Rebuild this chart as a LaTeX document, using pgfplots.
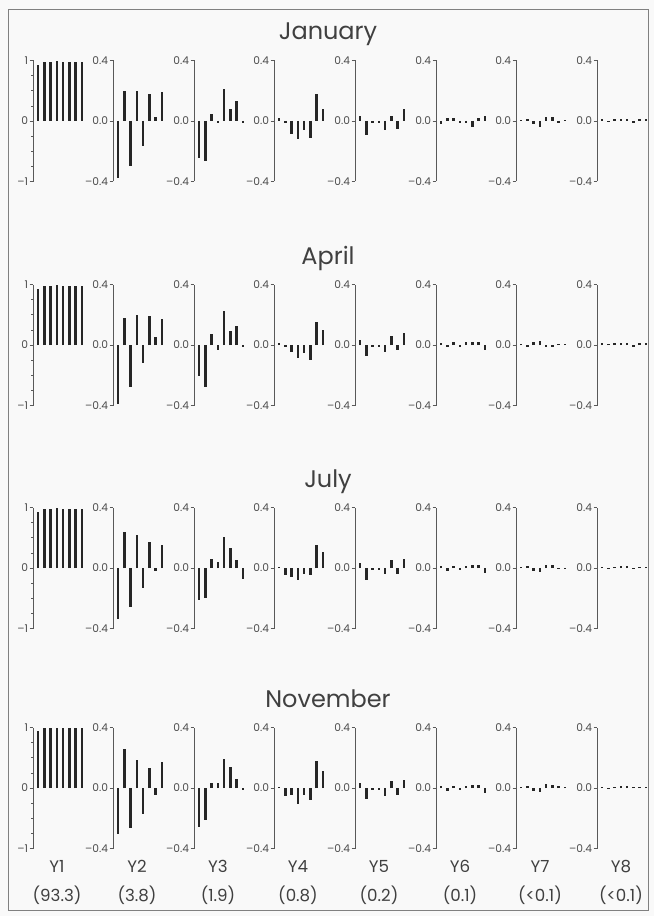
\documentclass[border=0pt]{standalone}
\usepackage{pgfplots}
\pgfplotsset{compat=1.18}
\usepackage{pgfplotstable}
\usepackage{fontspec}
\setmainfont{Poppins}

\definecolor{ink}{gray}{0.15}
\definecolor{paper}{gray}{0.975}
\def\u{0.75pt}

% loadings of the eight components, one row per station
\pgfplotstableread{
x Y1   Y2     Y3     Y4     Y5     Y6     Y7     Y8
1 0.93 -0.377 -0.245  0.018  0.030 -0.020  0.008  0.010
2 0.98  0.197 -0.263 -0.010 -0.090  0.020  0.010 -0.008
3 0.98 -0.300  0.045 -0.085 -0.010  0.020 -0.020  0.010
4 0.99  0.197 -0.015 -0.119 -0.010 -0.010 -0.040  0.010
5 0.98 -0.165  0.213 -0.057 -0.057 -0.010  0.025  0.015
6 0.98  0.180  0.082 -0.112  0.030 -0.040  0.025 -0.010
7 0.98  0.025  0.133  0.178 -0.050  0.020 -0.010  0.010
8 0.98  0.194 -0.010  0.080  0.080  0.030  0.008  0.010
}\janT

\pgfplotstableread{
x Y1   Y2     Y3     Y4     Y5     Y6     Y7     Y8
1 0.93 -0.389 -0.204  0.010  0.030  0.015  0.008  0.010
2 0.98  0.176 -0.275 -0.010 -0.070 -0.015 -0.010  0.008
3 0.98 -0.275  0.073 -0.044 -0.010  0.020  0.020  0.010
4 0.99  0.198 -0.030 -0.088 -0.010 -0.010  0.025  0.012
5 0.98 -0.121  0.226 -0.050 -0.044  0.020 -0.015  0.015
6 0.98  0.190  0.092 -0.099  0.060  0.020 -0.015 -0.010
7 0.98  0.050  0.125  0.152 -0.035  0.020  0.008  0.010
8 0.98  0.169 -0.010  0.099  0.077 -0.030  0.008  0.010
}\aprT

\pgfplotstableread{
x Y1   Y2     Y3     Y4     Y5     Y6     Y7     Y8
1 0.93 -0.339 -0.212  0.005  0.030  0.010  0.005  0.008
2 0.98  0.240 -0.201 -0.048 -0.080 -0.020  0.015 -0.008
3 0.98 -0.256  0.057 -0.059 -0.010  0.015 -0.020  0.008
4 0.99  0.220  0.039 -0.081 -0.010 -0.010 -0.025  0.010
5 0.98 -0.135  0.208 -0.042 -0.040  0.015  0.020  0.010
6 0.98  0.170  0.133 -0.048  0.050  0.020  0.020 -0.008
7 0.98 -0.020  0.050  0.149 -0.040  0.020 -0.008  0.008
8 0.98  0.149 -0.070  0.105  0.060 -0.030 -0.008  0.008
}\julT

\pgfplotstableread{
x Y1   Y2     Y3     Y4     Y5     Y6     Y7     Y8
1 0.94 -0.305 -0.255  0.005  0.035  0.015  0.005  0.008
2 0.99  0.255 -0.210 -0.056 -0.075 -0.020  0.010 -0.008
3 0.99 -0.267  0.034 -0.045 -0.010  0.015 -0.020  0.008
4 0.99  0.185  0.034 -0.106 -0.010 -0.010 -0.025  0.010
5 0.99 -0.174  0.192 -0.045 -0.050  0.015  0.025  0.010
6 0.99  0.129  0.136 -0.079  0.045  0.020  0.020  0.008
7 0.99 -0.045  0.061  0.181 -0.045  0.020  0.010  0.008
8 0.99  0.169 -0.010  0.113  0.056 -0.030  0.008  0.008
}\novT

\pgfplotsset{
  panel/.style={
    scale only axis, width=39pt, height=90.75pt,
    xmin=0.19, xmax=8.5,
    axis x line=none, axis y line=left,
    y axis line style={-, draw=black!65, line width=0.5pt},
    ytick style={draw=black!65, line width=0.5pt},
    tick align=outside, major tick length=2.5pt,
    tick label style={font=\fontsize{8}{9}\selectfont, text=black!70},
    yticklabel style={inner sep=1pt},
    clip=false, anchor=west,
  },
  panelA/.style={panel, ymin=-1, ymax=1, ytick={-1,0,1}, yticklabels={–1,0,1},
    minor ytick={-0.75,-0.5,-0.25,0.25,0.5,0.75}, minor tick length=1.2pt},
  panelB/.style={panel, ymin=-0.4, ymax=0.4, ytick={-0.4,0,0.4}, yticklabels={–0.4,0.0,0.4}},
  barA/.style={ycomb, draw=ink, line width=2pt, mark=none},
  barB/.style={ycomb, draw=ink, line width=1.9pt, mark=none},
}

% one month: title and the eight component panels
\newcommand\monthrow[3]{%
  \node[anchor=base, font=\fontsize{18}{20}\selectfont, text=black!75] at ({328*\u},{-(#2-81)*\u}) {#3};
  \begin{axis}[panelA, at={({33*\u},{-#2*\u})}]
    \addplot[barA] table[x=x, y=Y1] {#1};
  \end{axis}
  \foreach \c/\xa in {Y2/113,Y3/194,Y4/274,Y5/355,Y6/436,Y7/516,Y8/597}{
    \begin{axis}[panelB, at={({\xa*\u},{-#2*\u})}]
      \addplot[barB] table[x=x, y=\c] {#1};
    \end{axis}
  }%
}

\begin{document}
\begin{tikzpicture}
  \fill[paper] (0,0) rectangle ({654*\u},{-916*\u});
  \draw[black!50, line width=0.7pt] ({8*\u},{-9*\u}) rectangle ({648*\u},{-910*\u});

  \monthrow{\janT}{121}{January}
  \monthrow{\aprT}{345}{April}
  \monthrow{\julT}{568}{July}
  \monthrow{\novT}{788}{November}

  % component names and explained variance
  \foreach \lab/\pc/\xa in {Y1/93.3/33,Y2/3.8/113,Y3/1.9/194,Y4/0.8/274,Y5/0.2/355,Y6/0.1/436,Y7/<0.1/516,Y8/<0.1/597}{
    \node[anchor=base, font=\fontsize{12.5}{14}\selectfont, text=black!75] at ({(\xa+24)*\u},{-872*\u}) {\lab};
    \node[anchor=base, font=\fontsize{12.5}{14}\selectfont, text=black!75] at ({(\xa+24)*\u},{-901*\u}) {(\pc)};
  }
\end{tikzpicture}
\end{document}
